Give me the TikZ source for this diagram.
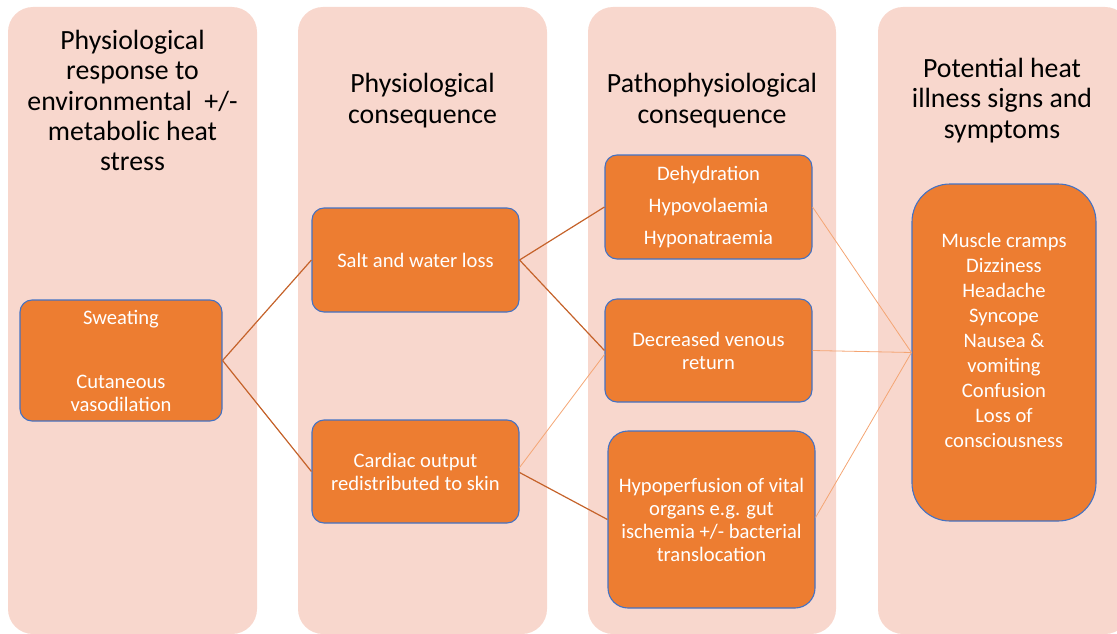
\documentclass[tikz,border=0pt]{standalone}
\usepackage{fontspec}
\setmainfont{Carlito}
\definecolor{colpink}{HTML}{F8D7CD}
\definecolor{boxorange}{HTML}{ED7D31}
\definecolor{boxblue}{HTML}{4472C4}
\definecolor{darkline}{HTML}{C5622A}
\definecolor{lightline}{HTML}{F4A573}
\begin{document}
\begin{tikzpicture}[x=1pt,y=-1pt,
  col/.style={fill=colpink, rounded corners=25pt},
  head/.style={align=center, font=\fontsize{27.8}{30.3}\selectfont, text=black, inner sep=0},
  box/.style={draw=boxblue, fill=boxorange, rounded corners=12pt, line width=1.1pt,
    text=white, align=center, font=\fontsize{20.6}{23}\selectfont, inner sep=0},
  boxtext/.style={text=white, align=center, font=\fontsize{20.6}{25}\selectfont, inner sep=0},
  dark/.style={draw=darkline, line width=1.2pt},
  light/.style={draw=lightline, line width=0.8pt}]
\clip (0,0) rectangle (1117,634);
% columns
\fill[col] (8,7) rectangle (257,634);
\fill[col] (298,7) rectangle (547,634);
\fill[col] (588,7) rectangle (836,634);
\fill[col] (878,7) rectangle (1130,634);
% headings
\node[head] (h1) at (132.5,100.5) {Physiological\\response to\\environmental\ \ +/-\\metabolic heat\\stress};
\node[head] (h2) at (422.5,100.5) {Physiological\\consequence};
\node[head] (h3) at (712,100.5) {Pathophysiological\\consequence};
\node[head] (h4) at (1002,100.5) {Potential heat\\illness signs and\\symptoms};
% boxes
\node[box, minimum width=202pt, minimum height=121pt] (sw) at (121,360.5) {Sweating\\[41pt]Cutaneous\\vasodilation};
\node[box, minimum width=207pt, minimum height=104pt] (salt) at (415.5,260) {Salt and water loss};
\node[box, minimum width=207pt, minimum height=103pt] (card) at (415.5,471.5) {Cardiac output\\redistributed to skin};
\node[box, minimum width=207pt, minimum height=104pt] (dehy) at (708.5,207) {Dehydration\\[9pt]Hypovolaemia\\[9pt]Hyponatraemia};
\node[box, minimum width=207pt, minimum height=103pt] (dvr) at (708.5,350.5) {Decreased venous\\return};
\node[box, rounded corners=20pt, minimum width=207pt, minimum height=177pt] (hypo) at (711.5,519.5) {Hypoperfusion of vital\\organs e.g. gut\\ischemia +/- bacterial\\translocation};
\node[box, rounded corners=38pt, minimum width=184pt, minimum height=337pt] (sym) at (1004,352.5) {};
\node[boxtext] (symtext) at (1004,340) {Muscle cramps\\Dizziness\\Headache\\Syncope\\Nausea \&\\vomiting\\Confusion\\Loss of\\consciousness};
% connectors
\draw[dark] (sw.east) -- (salt.west);
\draw[dark] (sw.east) -- (card.west);
\draw[dark] (salt.east) -- (dehy.west);
\draw[dark] (salt.east) -- (dvr.west);
\draw[light] ([yshift=4pt]card.east) -- ([yshift=-4pt]dvr.west);
\draw[dark] ([yshift=-1pt]card.east) -- (hypo.west);
\draw[light] (dehy.east) -- (sym.west);
\draw[light] (dvr.east) -- (sym.west);
\draw[light] ([yshift=2pt]hypo.east) -- (sym.west);
\end{tikzpicture}
\end{document}
